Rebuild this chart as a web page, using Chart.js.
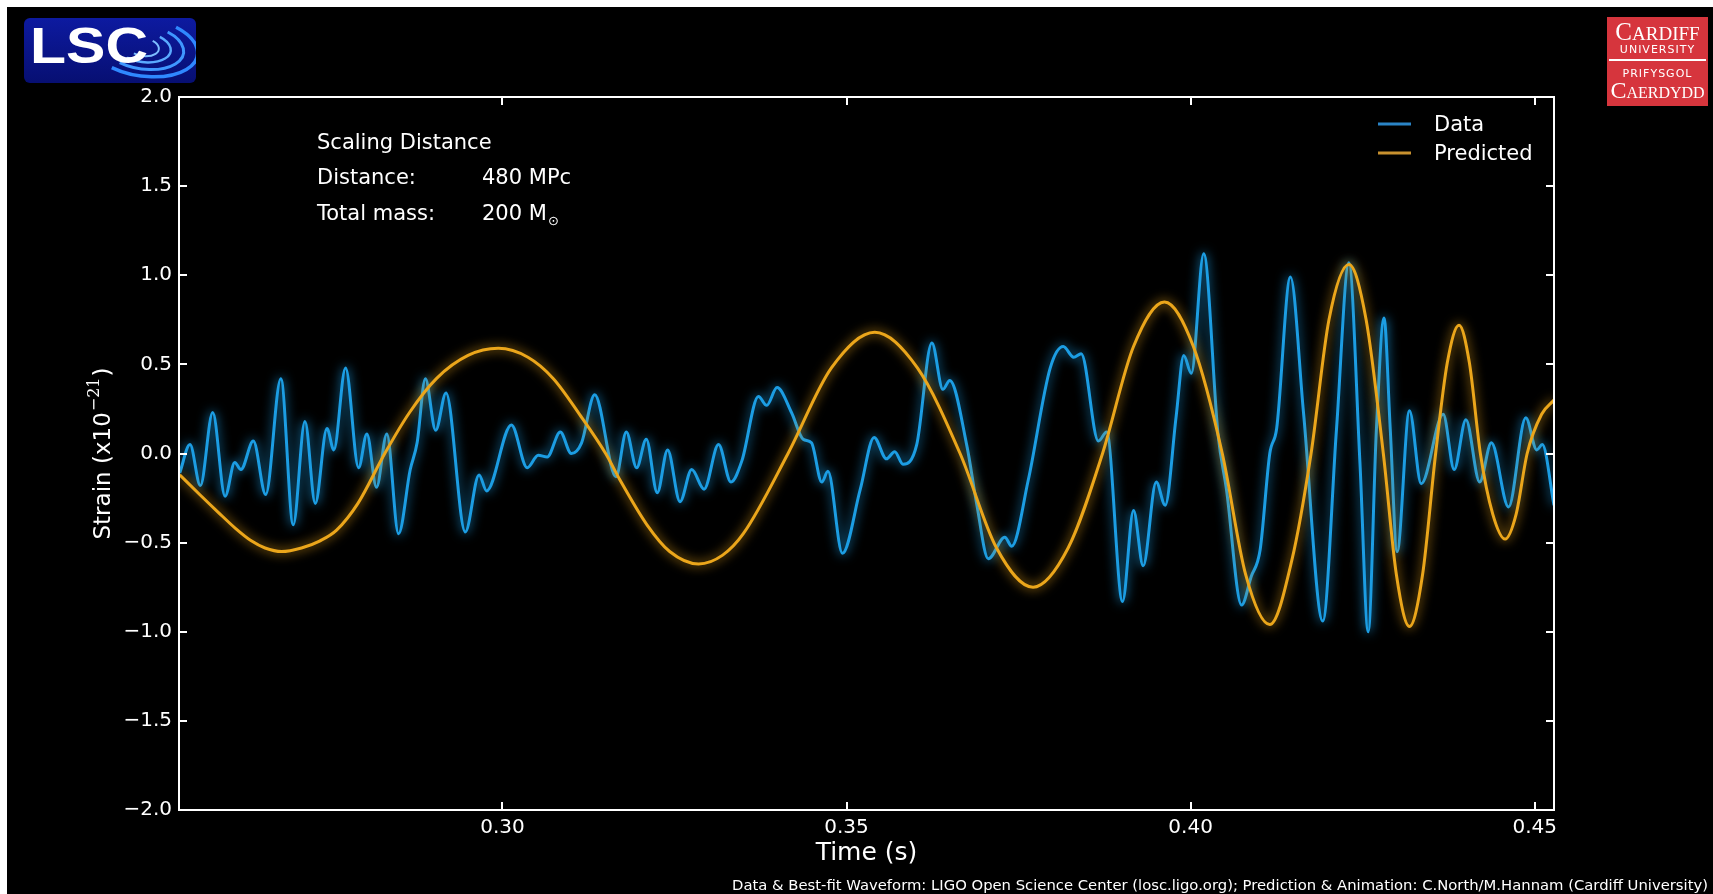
<!DOCTYPE html>
<html>
<head>
<meta charset="utf-8">
<title>Strain vs time</title>
<script src="https://cdn.jsdelivr.net/npm/chart.js@4.4.1/dist/chart.umd.min.js"></script>
<style>
  html, body { margin: 0; padding: 0; background: #000; overflow: hidden; }
  canvas { display: block; }
</style>
</head>
<body>
<canvas id="strainChart" width="1713" height="894"></canvas>
<script>
// measured strain (x1e-21) against time (s)
const dataTime = [
  0.2531, 0.2546, 0.2561, 0.2579, 0.2597, 0.2611, 0.2620, 0.2638, 0.2656, 0.2678,
  0.2696, 0.2713, 0.2728, 0.2745, 0.2755, 0.2772, 0.2791, 0.2803, 0.2817, 0.2832,
  0.2849, 0.2866, 0.2876, 0.2888, 0.2903, 0.2918, 0.2946, 0.2966, 0.2977, 0.3013,
  0.3036, 0.3052, 0.3065, 0.3084, 0.3100, 0.3115, 0.3134, 0.3165, 0.3180, 0.3195,
  0.3209, 0.3225, 0.3240, 0.3258, 0.3275, 0.3293, 0.3314, 0.3332, 0.3348, 0.3372,
  0.3384, 0.3399, 0.3420, 0.3437, 0.3449, 0.3464, 0.3473, 0.3494, 0.3520, 0.3540,
  0.3558, 0.3570, 0.3582, 0.3602, 0.3624, 0.3640, 0.3650, 0.3675, 0.3689, 0.3706,
  0.3730, 0.3740, 0.3764, 0.3796, 0.3815, 0.3830, 0.3841, 0.3866, 0.3878, 0.3901,
  0.3917, 0.3931, 0.3950, 0.3963, 0.3979, 0.3990, 0.4001, 0.4019, 0.4040, 0.4052,
  0.4074, 0.4088, 0.4101, 0.4115, 0.4125, 0.4145, 0.4164, 0.4192, 0.4212, 0.4230,
  0.4246, 0.4258, 0.4270, 0.4281, 0.4290, 0.4300, 0.4318, 0.4335, 0.4367, 0.4383,
  0.4400, 0.4420, 0.4437, 0.4462, 0.4487, 0.4503, 0.4511, 0.4528
];
const dataStrain = [
  -0.11, 0.05, -0.18, 0.23, -0.24, -0.05, -0.09, 0.07, -0.23, 0.42,
  -0.40, 0.18, -0.28, 0.14, 0.02, 0.48, -0.08, 0.11, -0.19, 0.11,
  -0.45, -0.09, 0.06, 0.42, 0.13, 0.34, -0.44, -0.12, -0.21, 0.16,
  -0.08, -0.01, -0.02, 0.12, 0.00, 0.06, 0.33, -0.13, 0.12, -0.08,
  0.08, -0.22, 0.02, -0.27, -0.09, -0.20, 0.05, -0.16, -0.04, 0.32,
  0.27, 0.37, 0.23, 0.08, 0.06, -0.16, -0.10, -0.56, -0.20, 0.09,
  -0.03, 0.01, -0.06, 0.05, 0.62, 0.36, 0.41, 0.04, -0.28, -0.59,
  -0.47, -0.52, -0.15, 0.48, 0.60, 0.54, 0.56, 0.07, 0.12, -0.83,
  -0.32, -0.63, -0.16, -0.29, 0.21, 0.55, 0.45, 1.12, 0.10, -0.20,
  -0.85, -0.69, -0.54, 0.00, 0.14, 0.99, 0.23, -0.94, 0.14, 1.07,
  -0.05, -1.00, 0.14, 0.76, 0.14, -0.55, 0.24, -0.17, 0.22, -0.09,
  0.19, -0.16, 0.06, -0.30, 0.20, 0.02, 0.05, -0.29
];

// best-fit waveform scaled to the chosen distance
const predTime = [
  0.2531, 0.2560, 0.2587, 0.2612, 0.2635, 0.2655, 0.2679, 0.2708, 0.2735, 0.2759, 0.2790,
  0.2829, 0.2865, 0.2904, 0.2950, 0.2994, 0.3037, 0.3074, 0.3112, 0.3150, 0.3171,
  0.3210, 0.3243, 0.3285, 0.3320, 0.3350, 0.3415, 0.3478, 0.3541, 0.3603, 0.3665,
  0.3718, 0.3771, 0.3822, 0.3872, 0.3917, 0.3962, 0.4004, 0.4046, 0.4080, 0.4115,
  0.4147, 0.4175, 0.4201, 0.4230, 0.4255, 0.4280, 0.4299, 0.4318, 0.4337, 0.4356,
  0.4373, 0.4390, 0.4405, 0.4421, 0.4439, 0.4457, 0.4473, 0.4489, 0.4510, 0.4528
];
const predStrain = [
  -0.12, -0.23, -0.33, -0.42, -0.49, -0.53, -0.55, -0.53, -0.49, -0.43, -0.28,
  0.00, 0.23, 0.42, 0.55, 0.59, 0.54, 0.42, 0.22, 0.00, -0.15,
  -0.40, -0.55, -0.62, -0.57, -0.45, 0.00, 0.48, 0.68, 0.48, 0.00,
  -0.53, -0.75, -0.53, 0.00, 0.60, 0.85, 0.60, 0.00, -0.68, -0.96,
  -0.60, 0.00, 0.75, 1.06, 0.75, 0.00, -0.68, -0.97, -0.68, 0.00,
  0.51, 0.72, 0.51, 0.00, -0.34, -0.48, -0.34, 0.00, 0.22, 0.30
];

const xTickValues = [0.30, 0.35, 0.40, 0.45];
const yTickValues = [-2.0, -1.5, -1.0, -0.5, 0.0, 0.5, 1.0, 1.5, 2.0];
const timeRange = [0.2530, 0.4528];
const strainRange = [-2.0, 2.0];

const seriesLabels = ['Data', 'Predicted'];
const infoLines = [
  ['Scaling Distance', ''],
  ['Distance:', '480 MPc'],
  ['Total mass:', '200 M']
];
const creditText = 'Data & Best-fit Waveform: LIGO Open Science Center (losc.ligo.org); Prediction & Animation: C.North/M.Hannam (Cardiff University)';

const FONT = '"DejaVu Sans", sans-serif';
const TICK_LEN = 8;
const BLUE = '#1c9de3';
const GOLD = '#eba61b';

function points(xs, ys) {
  return xs.map((x, i) => ({ x: x, y: ys[i] }));
}

// white page edge, black figure
const backgroundPlugin = {
  id: 'background',
  beforeDraw(chart) {
    const ctx = chart.ctx;
    ctx.save();
    ctx.fillStyle = '#fff';
    ctx.fillRect(0, 0, chart.width, chart.height);
    ctx.fillStyle = '#000';
    ctx.fillRect(7, 7, chart.width - 7, chart.height - 7);
    ctx.restore();
  }
};

// soft halo around each line
const glowPlugin = {
  id: 'glow',
  beforeDatasetDraw(chart, args) {
    const ctx = chart.ctx;
    ctx.save();
    ctx.shadowColor = chart.data.datasets[args.index].borderColor;
    ctx.shadowBlur = 11;
  },
  afterDatasetDraw(chart) {
    chart.ctx.restore();
  }
};

// box around the axes with inward ticks on all four sides
const framePlugin = {
  id: 'frame',
  afterDatasetsDraw(chart) {
    const { ctx, chartArea: a, scales } = chart;
    ctx.save();
    ctx.strokeStyle = '#fff';
    ctx.lineWidth = 2;
    ctx.strokeRect(a.left, a.top, a.right - a.left, a.bottom - a.top);
    ctx.beginPath();
    xTickValues.forEach(v => {
      const px = Math.round(scales.x.getPixelForValue(v));
      ctx.moveTo(px, a.bottom); ctx.lineTo(px, a.bottom - TICK_LEN);
      ctx.moveTo(px, a.top); ctx.lineTo(px, a.top + TICK_LEN);
    });
    yTickValues.forEach(v => {
      const py = Math.round(scales.y.getPixelForValue(v));
      ctx.moveTo(a.left, py); ctx.lineTo(a.left + TICK_LEN, py);
      ctx.moveTo(a.right, py); ctx.lineTo(a.right - TICK_LEN, py);
    });
    ctx.stroke();
    ctx.restore();
  }
};

function drawLscLogo(ctx) {
  const x = 24, y = 18, w = 172, h = 65;
  const g = ctx.createLinearGradient(x, y, x, y + h);
  g.addColorStop(0, '#0d1aa0');
  g.addColorStop(1, '#070f72');
  ctx.fillStyle = g;
  ctx.beginPath();
  ctx.roundRect(x, y, w, h, 6);
  ctx.fill();

  // ripples spreading out from the C
  ctx.save();
  ctx.beginPath();
  ctx.roundRect(x, y, w, h, 6);
  ctx.clip();
  const ripple = [[16, 9, 2, '#7dbdff'], [28, 15, 2.5, '#5aaaff'], [41, 22, 3, '#3f97ff'], [55, 29, 3.5, '#2f88ff']];
  ripple.forEach(r => {
    ctx.strokeStyle = r[3];
    ctx.lineWidth = r[2];
    ctx.beginPath();
    ctx.ellipse(143, 47, r[0], r[1], 0.15, -1.0, 2.1);
    ctx.stroke();
  });
  ctx.restore();

  ctx.save();
  ctx.fillStyle = '#fff';
  ctx.font = 'bold 50px "Liberation Sans", sans-serif';
  ctx.textAlign = 'left';
  ctx.textBaseline = 'alphabetic';
  ctx.translate(30, 63);
  ctx.scale(1.18, 1);
  ctx.fillText('LSC', 0, 0);
  ctx.restore();
}

function drawCardiffLogo(ctx) {
  const x = 1607, y = 17, w = 101, h = 89;
  ctx.fillStyle = '#d6353d';
  ctx.fillRect(x, y, w, h);
  ctx.strokeStyle = '#fff';
  ctx.lineWidth = 2;
  ctx.beginPath();
  ctx.moveTo(x + 2, y + 43); ctx.lineTo(x + w - 2, y + 43);
  ctx.stroke();

  const cx = x + w / 2;
  ctx.fillStyle = '#fff';
  ctx.textBaseline = 'alphabetic';

  // big first letter followed by small capitals
  function capsWord(first, rest, baseline, big, small) {
    ctx.font = big + 'px "Liberation Serif", serif';
    const w1 = ctx.measureText(first).width;
    ctx.font = small + 'px "Liberation Serif", serif';
    const w2 = ctx.measureText(rest).width;
    const left = cx - (w1 + w2) / 2;
    ctx.textAlign = 'left';
    ctx.font = big + 'px "Liberation Serif", serif';
    ctx.fillText(first, left, baseline);
    ctx.font = small + 'px "Liberation Serif", serif';
    ctx.fillText(rest, left + w1, baseline);
  }
  capsWord('C', 'ARDIFF', y + 23, 25, 19);
  capsWord('C', 'AERDYDD', y + 81, 24, 16);

  ctx.textAlign = 'center';
  ctx.font = '11px ' + FONT;
  ctx.letterSpacing = '1px';
  ctx.fillText('UNIVERSITY', cx, y + 36);
  ctx.fillText('PRIFYSGOL', cx, y + 60);
  ctx.letterSpacing = '0px';
}

// labels, legend, info box, logos and credit line
const textPlugin = {
  id: 'texts',
  afterDraw(chart) {
    const { ctx, chartArea: a } = chart;
    ctx.save();
    ctx.fillStyle = '#fff';
    ctx.textBaseline = 'alphabetic';

    // info box
    ctx.font = '21px ' + FONT;
    ctx.textAlign = 'left';
    const rows = [149, 184, 220];
    infoLines.forEach((line, i) => {
      ctx.fillText(line[0], 317, rows[i]);
      if (line[1]) ctx.fillText(line[1], 482, rows[i]);
    });
    // solar symbol as subscript
    const mw = ctx.measureText(infoLines[2][1]).width;
    ctx.font = '13px ' + FONT;
    ctx.fillText('\u2299', 482 + mw + 1, rows[2] + 5);

    // legend
    const ds = chart.data.datasets;
    const legendRows = [124, 153];
    ctx.font = '21px ' + FONT;
    ctx.lineWidth = 3;
    ds.forEach((d, i) => {
      ctx.strokeStyle = d.legendColor;
      ctx.beginPath();
      ctx.moveTo(1378, legendRows[i]);
      ctx.lineTo(1411, legendRows[i]);
      ctx.stroke();
      ctx.fillText(d.label, 1434, legendRows[i] + 7);
    });

    // x axis title
    ctx.font = '25px ' + FONT;
    ctx.textAlign = 'center';
    ctx.fillText('Time (s)', (a.left + a.right) / 2, 860);

    // y axis title with exponent
    const main = 'Strain (x10';
    const sup = '\u221221';
    ctx.font = '23px ' + FONT;
    const w1 = ctx.measureText(main).width;
    const w3 = ctx.measureText(')').width;
    ctx.font = '16px "DejaVu Serif", serif';
    const w2 = ctx.measureText(sup).width;
    const total = w1 + w2 + w3 + 2;
    ctx.translate(110, (a.top + a.bottom) / 2);
    ctx.rotate(-Math.PI / 2);
    ctx.textAlign = 'left';
    let pos = -total / 2;
    ctx.font = '23px ' + FONT;
    ctx.fillText(main, pos, 0);
    pos += w1 + 1;
    ctx.font = '16px "DejaVu Serif", serif';
    ctx.fillText(sup, pos, -11);
    pos += w2 + 1;
    ctx.font = '23px ' + FONT;
    ctx.fillText(')', pos, 0);
    ctx.setTransform(1, 0, 0, 1, 0, 0);

    // credit line
    ctx.font = '14.8px ' + FONT;
    ctx.textAlign = 'right';
    ctx.fillText(creditText, 1708, 890);

    drawLscLogo(ctx);
    drawCardiffLogo(ctx);
    ctx.restore();
  }
};

const ctx = document.getElementById('strainChart').getContext('2d');

const strainChart = new Chart(ctx, {
  type: 'line',
  data: {
    datasets: [
      {
        label: seriesLabels[0],
        data: points(dataTime, dataStrain),
        borderColor: BLUE,
        legendColor: '#2a84c6',
        borderWidth: 3,
        pointRadius: 0,
        cubicInterpolationMode: 'monotone',
        fill: false,
        order: 1
      },
      {
        label: seriesLabels[1],
        data: points(predTime, predStrain),
        borderColor: GOLD,
        legendColor: '#c8912f',
        borderWidth: 3,
        pointRadius: 0,
        cubicInterpolationMode: 'monotone',
        fill: false,
        order: 0
      }
    ]
  },
  options: {
    responsive: false,
    animation: false,
    devicePixelRatio: 1,
    layout: { padding: { left: 0, top: 97, right: 159, bottom: 0 } },
    plugins: {
      legend: { display: false },
      tooltip: { enabled: false }
    },
    scales: {
      x: {
        type: 'linear',
        min: timeRange[0],
        max: timeRange[1],
        afterBuildTicks: s => { s.ticks = xTickValues.map(v => ({ value: v })); },
        afterFit: s => { s.height = 84; },
        grid: { display: false, drawTicks: false },
        border: { display: false },
        ticks: {
          color: '#fff',
          font: { family: FONT, size: 20 },
          padding: 6,
          maxRotation: 0,
          autoSkip: false,
          callback: v => v.toFixed(2)
        }
      },
      y: {
        type: 'linear',
        min: strainRange[0],
        max: strainRange[1],
        afterBuildTicks: s => { s.ticks = yTickValues.map(v => ({ value: v })); },
        afterFit: s => { s.width = 179; },
        grid: { display: false, drawTicks: false },
        border: { display: false },
        ticks: {
          color: '#fff',
          font: { family: FONT, size: 20 },
          padding: 7,
          autoSkip: false,
          callback: v => (v < 0 ? '\u2212' : '') + Math.abs(v).toFixed(1)
        }
      }
    }
  },
  plugins: [backgroundPlugin, glowPlugin, framePlugin, textPlugin]
});
</script>
</body>
</html>
